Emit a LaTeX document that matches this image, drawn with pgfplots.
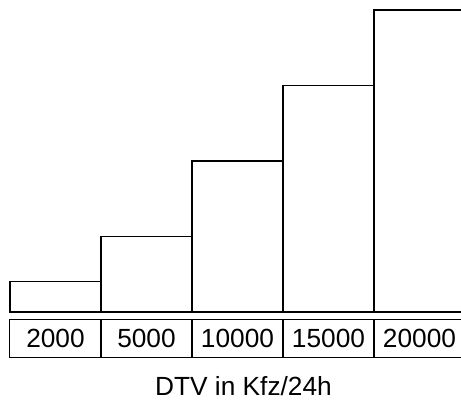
\documentclass[border=0pt]{standalone}
\usepackage{fontspec}
\setmainfont{Liberation Sans}
\usepackage{pgfplots}
\pgfplotsset{compat=1.18}
\begin{document}
\begin{tikzpicture}
\begin{axis}[
  at={(7.5pt,66.75pt)}, anchor=south west,
  scale only axis, width=341.25pt, height=226.5pt,
  xmin=0, xmax=5, ymin=0, ymax=20000,
  axis line style={draw=none},
  ytick=\empty,
  xtick={0.5,1.5,2.5,3.5,4.5},
  xticklabels={2000,5000,10000,15000,20000},
  major tick length=0pt,
  xticklabel style={draw=black, line width=0.75pt, minimum width=68.25pt,
    minimum height=28.5pt, inner sep=0pt, anchor=north, yshift=-5.25pt,
    font=\fontsize{19.7}{23}\selectfont},
  xlabel={DTV in Kfz/24h},
  xlabel style={at={(axis cs:2.566,0)}, anchor=base, yshift=-62.6pt,
    font=\fontsize{19.7}{23}\selectfont},
  clip=false,
]
\addplot[ybar, bar width=1, draw=black, line width=1pt, fill=none]
  coordinates {(0.5,2000) (1.5,5000) (2.5,10000) (3.5,15000) (4.5,20000)};
\end{axis}
\pgfresetboundingbox
\path[use as bounding box] (0,0) rectangle (345.75pt,300.75pt);
\end{tikzpicture}
\end{document}
